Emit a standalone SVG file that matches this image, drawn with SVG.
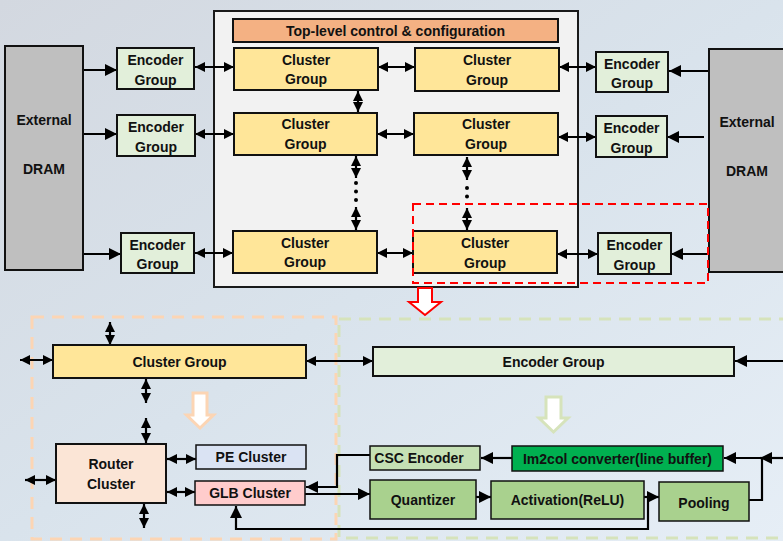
<svg xmlns="http://www.w3.org/2000/svg" width="783" height="541" viewBox="0 0 783 541">
<defs>
<linearGradient id="bg" x1="0" y1="0" x2="1" y2="1">
<stop offset="0" stop-color="#d3d8e0"/>
<stop offset="0.5" stop-color="#d9e3ec"/>
<stop offset="1" stop-color="#e6eef6"/>
</linearGradient>
<marker id="ah" viewBox="0 0 10 10" refX="10" refY="5" markerWidth="12" markerHeight="12" markerUnits="userSpaceOnUse" orient="auto-start-reverse">
<path d="M0,0 L10,5 L0,10 z" fill="#000"/>
</marker>
<marker id="as" viewBox="0 0 10 10" refX="10" refY="5" markerWidth="10" markerHeight="10" markerUnits="userSpaceOnUse" orient="auto-start-reverse">
<path d="M0,0 L10,5 L0,10 z" fill="#000"/>
</marker>
</defs>
<style>
text{font-family:"Liberation Sans",Arial,sans-serif;font-weight:bold;font-size:14px;fill:#111;text-anchor:middle}
.box{stroke:#111;stroke-width:2}
.dram{fill:#bfbfbf}
.enc{fill:#e2efda}
.clu{fill:#ffe699}
.ln{stroke:#000;stroke-width:2.2;fill:none}
.d1{marker-end:url(#ah)}
.d2{marker-start:url(#as);marker-end:url(#as)}
.dots{stroke:#000;stroke-width:4;stroke-linecap:round;stroke-dasharray:0 8.5;fill:none}
</style>
<rect width="783" height="541" fill="url(#bg)"/>

<g id="containers">
<rect id="top-frame" x="214" y="11" width="364" height="276" fill="#f2f2f2" stroke="#1a1a1a" stroke-width="2"/>
<rect id="cluster-group-detail" x="32" y="317" width="304" height="222" fill="none" stroke="#fcd5b4" stroke-width="3" stroke-dasharray="12 8"/>
<rect id="encoder-group-detail" x="339" y="319" width="470" height="219" fill="none" stroke="#d6e3bb" stroke-width="3" stroke-dasharray="12 8"/>
</g>

<g id="connectors">
<line class="ln d1" x1="83" y1="70" x2="117" y2="70"/>
<line class="ln d1" x1="83" y1="134" x2="117" y2="134"/>
<line class="ln d1" x1="83" y1="254" x2="121" y2="254"/>
<line class="ln d2" x1="195" y1="67" x2="234" y2="67"/>
<line class="ln d2" x1="195" y1="134" x2="234" y2="134"/>
<line class="ln d2" x1="195" y1="253" x2="233" y2="253"/>
<line class="ln d2" x1="378" y1="67" x2="415" y2="67"/>
<line class="ln d2" x1="377" y1="134" x2="414" y2="134"/>
<line class="ln d2" x1="377" y1="253" x2="413" y2="253"/>
<line class="ln d2" x1="559" y1="67" x2="596" y2="67"/>
<line class="ln d2" x1="558" y1="137" x2="596" y2="137"/>
<line class="ln d2" x1="557" y1="254" x2="598" y2="254"/>
<line class="ln d1" x1="708" y1="71" x2="669" y2="71"/>
<line class="ln d1" x1="704" y1="137" x2="667" y2="137"/>
<line class="ln d1" x1="708" y1="254" x2="671" y2="254"/>
<line class="ln d2" x1="358" y1="91" x2="358" y2="112"/>
<line class="ln d2" x1="356" y1="156" x2="356" y2="178"/>
<path class="dots" d="M356,183 V201"/>
<line class="ln d2" x1="356" y1="207" x2="356" y2="230"/>
<line class="ln d2" x1="467" y1="157" x2="467" y2="180"/>
<path class="dots" d="M467,188 V205"/>
<line class="ln d2" x1="467" y1="208" x2="467" y2="230"/>

<line class="ln d2" x1="20" y1="360" x2="53" y2="360"/>
<line class="ln d2" x1="110" y1="322" x2="110" y2="345"/>
<line class="ln d2" x1="306" y1="361" x2="373" y2="361"/>
<line class="ln d1" x1="783" y1="361" x2="735" y2="361"/>
<line class="ln d2" x1="146" y1="379" x2="146" y2="403"/>
<line class="ln d2" x1="146" y1="418" x2="146" y2="443"/>
<line class="ln d2" x1="144" y1="504" x2="144" y2="528"/>
<line class="ln d2" x1="25" y1="480" x2="56" y2="480"/>
<line class="ln d2" x1="167" y1="459" x2="196" y2="459"/>
<line class="ln d2" x1="167" y1="492" x2="195" y2="492"/>
<line class="ln d1" x1="512" y1="458" x2="481" y2="458"/>
<path class="ln d1" d="M370,455 H337 V487 H306"/>
<line class="ln d1" x1="305" y1="494" x2="370" y2="494"/>
<line class="ln d1" x1="476" y1="497" x2="491" y2="497"/>
<line class="ln d1" x1="644" y1="497" x2="659" y2="497"/>
<path class="ln d1" d="M648,497 V529 H236 V506"/>
<path class="ln d1" d="M749,500 H762 V458 H724"/>
<line class="ln d1" x1="783" y1="458" x2="760" y2="458"/>
</g>

<g id="dram-left"><rect class="box dram" x="5" y="46" width="78" height="224"/><text x="44" y="125">External</text><text x="44" y="174">DRAM</text></g>
<g id="dram-right"><rect class="box dram" x="709" y="49" width="84" height="223"/><text x="747" y="127">External</text><text x="747" y="176">DRAM</text></g>

<g id="enc-l1"><rect class="box enc" x="117" y="48" width="77" height="41"/><text x="155.5" y="65">Encoder</text><text x="155.5" y="85">Group</text></g>
<g id="enc-l2"><rect class="box enc" x="117" y="115" width="78" height="41"/><text x="156" y="132">Encoder</text><text x="156" y="152">Group</text></g>
<g id="enc-l3"><rect class="box enc" x="121" y="233" width="73" height="40"/><text x="157.5" y="250">Encoder</text><text x="157.5" y="269">Group</text></g>
<g id="enc-r1"><rect class="box enc" x="596" y="52" width="72" height="40"/><text x="632" y="69">Encoder</text><text x="632" y="88">Group</text></g>
<g id="enc-r2"><rect class="box enc" x="596" y="116" width="71" height="41"/><text x="631.5" y="133">Encoder</text><text x="631.5" y="153">Group</text></g>
<g id="enc-r3"><rect class="box enc" x="598" y="233" width="73" height="41"/><text x="634.5" y="250">Encoder</text><text x="634.5" y="270">Group</text></g>

<g id="top-control"><rect class="box" x="233" y="19" width="325" height="23" fill="#f4b183"/><text x="395.5" y="36">Top-level control &amp; configuration</text></g>

<g id="cg-11"><rect class="box clu" x="234" y="48" width="144" height="42"/><text x="306" y="65">Cluster</text><text x="306" y="84">Group</text></g>
<g id="cg-12"><rect class="box clu" x="415" y="48" width="144" height="43"/><text x="487" y="65">Cluster</text><text x="487" y="85">Group</text></g>
<g id="cg-21"><rect class="box clu" x="234" y="113" width="143" height="42"/><text x="305.5" y="129">Cluster</text><text x="305.5" y="149">Group</text></g>
<g id="cg-22"><rect class="box clu" x="414" y="113" width="144" height="42"/><text x="486" y="129">Cluster</text><text x="486" y="149">Group</text></g>
<g id="cg-31"><rect class="box clu" x="233" y="231" width="144" height="42"/><text x="305" y="248">Cluster</text><text x="305" y="267">Group</text></g>
<g id="cg-32"><rect class="box clu" x="413" y="231" width="144" height="42"/><text x="485" y="248">Cluster</text><text x="485" y="268">Group</text></g>

<g id="highlight"><rect x="413" y="204" width="295" height="79" fill="none" stroke="#ff0000" stroke-width="2" stroke-dasharray="8 5"/></g>
<g id="zoom-arrow"><polygon points="418,288 432,288 432,302 441,302 425,315 409,302 418,302" fill="#fff" stroke="#ff0000" stroke-width="2"/></g>

<g id="cluster-group-bar"><rect class="box clu" x="53" y="345" width="253" height="33"/><text x="179.5" y="367">Cluster Group</text></g>
<g id="encoder-group-bar"><rect class="box enc" x="373" y="347" width="361" height="29"/><text x="553.5" y="367">Encoder Group</text></g>
<g id="arrow-orange"><polygon points="193,393 207,393 207,415 213.5,415 200,428 186.5,415 193,415" fill="#fff" stroke="#fcd5b4" stroke-width="3"/></g>
<g id="arrow-green"><polygon points="546,397 561,397 561,418 568,418 553.5,432 539,418 546,418" fill="#fff" stroke="#d6e3bb" stroke-width="3"/></g>

<g id="router"><rect class="box" x="56" y="444" width="110" height="59" fill="#fbe5d6"/><text x="111" y="469">Router</text><text x="111" y="489">Cluster</text></g>
<g id="pe"><rect x="196" y="445" width="110" height="24" fill="#dae3f3" stroke="#111" stroke-width="1.5"/><text x="251" y="462">PE Cluster</text></g>
<g id="glb"><rect x="195" y="481" width="110" height="24" fill="#ffcccc" stroke="#111" stroke-width="1.5"/><text x="250" y="498">GLB Cluster</text></g>
<g id="csc"><rect x="370" y="446" width="110" height="24" fill="#c5e0b4" stroke="#111" stroke-width="1.5"/><text x="419" y="463">CSC Encoder</text></g>
<g id="im2col"><rect x="512" y="446" width="211" height="25" fill="#00b050" stroke="#111" stroke-width="1.5"/><text x="617.5" y="463.5">Im2col converter(line buffer)</text></g>
<g id="quant"><rect x="370" y="480" width="106" height="39" fill="#a9d18e" stroke="#111" stroke-width="1.5"/><text x="423" y="505">Quantizer</text></g>
<g id="act"><rect x="491" y="481" width="153" height="38" fill="#a9d18e" stroke="#111" stroke-width="1.5"/><text x="567.5" y="505">Activation(ReLU)</text></g>
<g id="pool"><rect x="659" y="482" width="90" height="39" fill="#a9d18e" stroke="#111" stroke-width="1.5"/><text x="704" y="508">Pooling</text></g>
</svg>
